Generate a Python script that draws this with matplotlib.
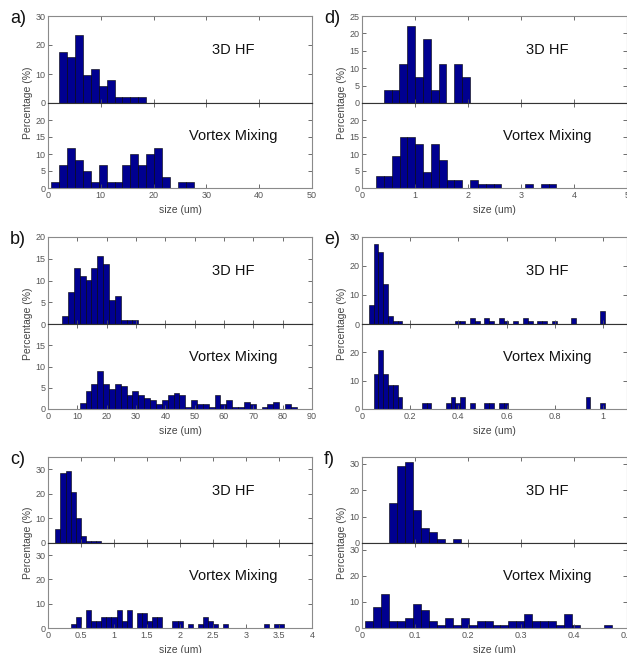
import numpy as np
import matplotlib
matplotlib.use("Agg")
import matplotlib.pyplot as plt
from matplotlib.ticker import FormatStrFormatter, FuncFormatter

plt.rcParams['font.family'] = ['Liberation Sans', 'DejaVu Sans']

# bin width and left edge of first bin (um), heights in %
# a) size 0-50 um
a_width = 1.5
a_hf_start = 2.1
a_hf = [17.7, 15.7, 23.5, 9.8, 11.8, 5.9, 7.8, 2.0, 2.0, 2.0, 2.0]
a_vm_start = 0.6
a_vm = [1.7, 6.7, 11.7, 8.3, 5.0, 1.7, 6.7, 1.7, 1.7, 6.7, 10.0, 6.7, 10.0, 11.7, 3.3, 0, 1.7, 1.7]

# b) size 0-90 um
b_width = 2.0
b_hf_start = 4.8
b_hf = [1.9, 7.4, 12.9, 11.1, 10.2, 12.9, 15.7, 13.9, 5.6, 6.5, 0.9, 0.9, 0.9]
b_vm_start = 10.8
b_vm = [1.5, 4.2, 5.8, 8.9, 5.8, 4.7, 5.8, 5.3, 3.2, 4.2, 3.2, 2.6, 2.1, 1.1, 2.1, 3.2,
        3.7, 3.2, 0.5, 2.1, 1.1, 1.1, 0.5, 3.2, 1.1, 2.1, 0.5, 0.5, 1.6, 1.1, 0, 0.5,
        1.1, 1.6, 0, 1.1, 0.5]

# c) size 0-4 um
c_width = 0.077
c_hf_start = 0.112
c_hf = [5.7, 28.3, 29.2, 20.9, 10.3, 3.0, 0.8, 0.8, 0.8]
c_vm_start = 0.346
c_vm = [1.5, 4.5, 0, 7.5, 3.0, 3.0, 4.5, 4.5, 4.5, 7.5, 3.0, 7.5, 0, 6.0, 6.0, 3.0,
        4.5, 4.5, 0, 0, 3.0, 3.0, 0, 1.5, 0, 1.5, 4.5, 3.0, 1.5, 0, 1.5, 0,
        0, 0, 0, 0, 0, 0, 1.5, 0, 1.5, 1.5]

# d) size 0-5 um
d_width = 0.148
d_hf_start = 0.41
d_hf = [3.7, 3.7, 11.1, 22.2, 7.4, 18.5, 3.7, 11.1, 0, 11.1, 7.4]
d_vm_start = 0.264
d_vm = [3.5, 3.5, 9.3, 15.1, 15.1, 12.8, 4.7, 12.8, 8.1, 2.3, 2.3, 0, 2.3, 1.2, 1.2, 1.2,
        0, 0, 0, 1.2, 0, 1.2, 1.2]

# e) size 0-1.1 um
e_width = 0.02
e_hf_start = 0.028
e_hf = [6.5, 27.5, 24.7, 13.9, 2.8, 0.9, 0.9, 0, 0, 0, 0, 0, 0, 0, 0, 0,
        0, 0, 0.9, 0.9, 0, 1.9, 0.9, 0, 1.9, 0.9, 0, 1.9, 0.9, 0, 0.9, 0,
        1.9, 0.9, 0, 0.9, 0.9, 0, 0.9, 0, 0, 0, 1.9, 0, 0, 0, 0, 0, 4.6]
e_vm_start = 0.028
e_vm = [0, 12.5, 20.8, 12.5, 8.3, 8.3, 4.2, 0, 0, 0, 0, 2.1, 2.1, 0, 0, 0,
        2.1, 4.2, 2.1, 4.2, 0, 2.1, 0, 0, 2.1, 2.1, 0, 2.1, 2.1, 0, 0, 0,
        0, 0, 0, 0, 0, 0, 0, 0, 0, 0, 0, 0, 0, 4.2, 0, 0, 2.1]

# f) size 0-0.5 um
f_width = 0.015
f_hf_start = 0.0517
f_hf = [15.3, 29.2, 30.6, 12.5, 5.6, 4.2, 1.4, 0, 1.4]
f_vm_start = 0.0063
f_vm = [2.7, 8.0, 12.9, 2.7, 2.7, 4.0, 9.3, 6.7, 2.7, 1.3, 4.0, 1.3, 4.0, 1.3, 2.7, 2.7,
        1.3, 1.3, 2.7, 2.7, 5.3, 2.7, 2.7, 2.7, 1.3, 5.3, 1.3, 0, 0, 0, 1.3]

bar_color = '#000090'
tick_gray = '#555555'

W, H = 627, 653
fig = plt.figure(figsize=(W / 100, H / 100), dpi=100)

col_x = [(48, 312), (362, 627)]
row_y = [(16, 103, 188), (237, 324, 409), (457, 543, 628)]

panels = [
    # label, col, row, width, hf start, hf, vm start, vm, xlim, xticks, top ylim, top yticks, bottom ylim, bottom yticks
    ('a)', 0, 0, a_width, a_hf_start, a_hf, a_vm_start, a_vm, 50, np.arange(0, 51, 10),
     30, [0, 10, 20, 30], 25, [0, 5, 10, 15, 20]),
    ('b)', 0, 1, b_width, b_hf_start, b_hf, b_vm_start, b_vm, 90, np.arange(0, 91, 10),
     20, [0, 5, 10, 15, 20], 20, [0, 5, 10, 15]),
    ('c)', 0, 2, c_width, c_hf_start, c_hf, c_vm_start, c_vm, 4, np.arange(0, 4.01, 0.5),
     35, [0, 10, 20, 30], 35, [0, 10, 20, 30]),
    ('d)', 1, 0, d_width, d_hf_start, d_hf, d_vm_start, d_vm, 5, np.arange(0, 5.01, 1),
     25, [0, 5, 10, 15, 20, 25], 25, [0, 5, 10, 15, 20]),
    ('e)', 1, 1, e_width, e_hf_start, e_hf, e_vm_start, e_vm, 1.1, np.arange(0, 1.01, 0.2),
     30, [0, 10, 20, 30], 30, [0, 10, 20]),
    ('f)', 1, 2, f_width, f_hf_start, f_hf, f_vm_start, f_vm, 0.5, np.arange(0, 0.51, 0.1),
     32.5, [0, 10, 20, 30], 32.5, [0, 10, 20, 30]),
]


def fx(px):
    return px / W


def fy(px):
    return 1 - px / H


def draw_hist(ax, start, width, heights):
    heights = np.array(heights, dtype=float)
    lefts = start + width * np.arange(len(heights))
    keep = heights > 0
    ax.bar(lefts[keep], heights[keep], width=width, align='edge',
           color=bar_color, edgecolor='black', linewidth=0.4)


def style(ax):
    ax.tick_params(direction='in', top=True, right=True, length=3, width=0.6,
                   colors=tick_gray, labelsize=6.5, pad=2)
    for s in ax.spines.values():
        s.set_color('#8a8a8a')
        s.set_linewidth(0.8)


fmt = FuncFormatter(lambda v, p: '%g' % round(v, 6))

for (lab, col, row, w, hs, hf, vs, vm, xmax, xt, yt_max, yt, yb_max, yb) in panels:
    x0, x1 = col_x[col]
    top, mid, bot = row_y[row]
    ax_t = fig.add_axes([fx(x0), fy(mid), fx(x1) - fx(x0), fy(top) - fy(mid)])
    ax_b = fig.add_axes([fx(x0), fy(bot), fx(x1) - fx(x0), fy(mid) - fy(bot)])

    draw_hist(ax_t, hs, w, hf)
    draw_hist(ax_b, vs, w, vm)

    for ax in (ax_t, ax_b):
        ax.set_xlim(0, xmax)
        ax.set_xticks(xt)
        ax.xaxis.set_major_formatter(fmt)
        style(ax)
    ax_t.set_ylim(0, yt_max)
    ax_t.set_yticks(yt)
    ax_b.set_ylim(0, yb_max)
    ax_b.set_yticks(yb)
    ax_t.tick_params(labelbottom=False)
    ax_t.spines['bottom'].set_color('#333333')
    ax_b.spines['top'].set_color('#333333')

    ax_t.text(0.70, 0.61, '3D HF', transform=ax_t.transAxes, ha='center',
              va='center', fontsize=10.5, color='#111111')
    ax_b.text(0.70, 0.61, 'Vortex Mixing', transform=ax_b.transAxes, ha='center',
              va='center', fontsize=10.5, color='#111111')

    ax_b.set_xlabel('size (um)', fontsize=7.5, color='#444444', labelpad=4)
    fig.text(fx(x0 - 20), fy(mid), 'Percentage (%)', rotation=90, ha='center',
             va='center', fontsize=7.5, color='#444444')
    fig.text(fx(x0 - 38), fy(top - 6), lab, ha='left', va='top',
             fontsize=13, color='#111111')

fig.savefig('out.png', dpi=100)
